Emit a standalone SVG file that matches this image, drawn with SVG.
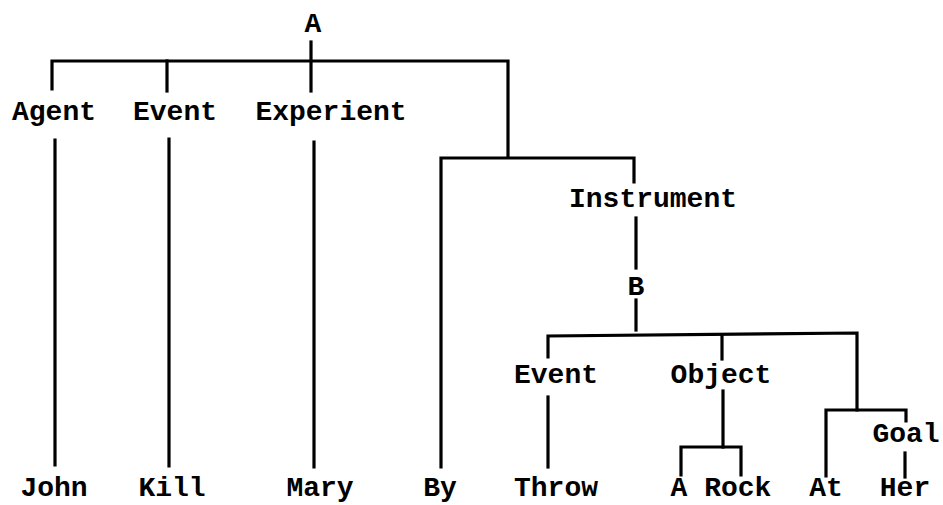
<svg xmlns="http://www.w3.org/2000/svg" width="943" height="505" viewBox="0 0 943 505">
<style>
text{font-family:"Liberation Mono","Courier New",monospace;font-size:28px;font-weight:bold;fill:#000;text-anchor:middle}
.c line,.c path{stroke:#000;stroke-width:3.2;fill:none;stroke-linecap:square}
</style>
<rect width="943" height="505" fill="#fff"/>
<g class="c" id="connectors">
<line x1="311" y1="42" x2="311" y2="91"/>
<path d="M52 89 V61 H508 V157"/>
<line x1="167" y1="61" x2="167" y2="91"/>
<line x1="55" y1="140" x2="55" y2="465"/>
<line x1="169" y1="139" x2="169" y2="466"/>
<line x1="314" y1="142" x2="314" y2="467"/>
<path d="M441 467 V158 H634 V182"/>
<line x1="636" y1="218" x2="636" y2="268"/>
<line x1="636" y1="300" x2="636" y2="330"/>
<path d="M548 357 V336 L857 333 V410"/>
<line x1="722" y1="335" x2="722" y2="359"/>
<line x1="548" y1="397" x2="548" y2="467"/>
<path d="M723 391 V447"/>
<path d="M681 475 V447 H741 V475"/>
<path d="M826 476 V410 H906 V421"/>
<line x1="905" y1="453" x2="905" y2="477"/>
</g>
<g id="A"><text x="313" y="32">A</text></g>
<g id="agent"><text x="54" y="120">Agent</text></g>
<g id="event1"><text x="175" y="120">Event</text></g>
<g id="experient"><text x="331" y="120">Experient</text></g>
<g id="instrument"><text x="653" y="207">Instrument</text></g>
<g id="B"><text x="636" y="295">B</text></g>
<g id="event2"><text x="556" y="383">Event</text></g>
<g id="object"><text x="721" y="383">Object</text></g>
<g id="goal"><text x="906" y="442">Goal</text></g>
<g id="john"><text x="54" y="496">John</text></g>
<g id="kill"><text x="172" y="496">Kill</text></g>
<g id="mary"><text x="320" y="496">Mary</text></g>
<g id="by"><text x="440" y="496">By</text></g>
<g id="throw"><text x="556" y="496">Throw</text></g>
<g id="arock"><text x="721" y="496">A Rock</text></g>
<g id="at"><text x="826" y="496">At</text></g>
<g id="her"><text x="905" y="496">Her</text></g>
</svg>
